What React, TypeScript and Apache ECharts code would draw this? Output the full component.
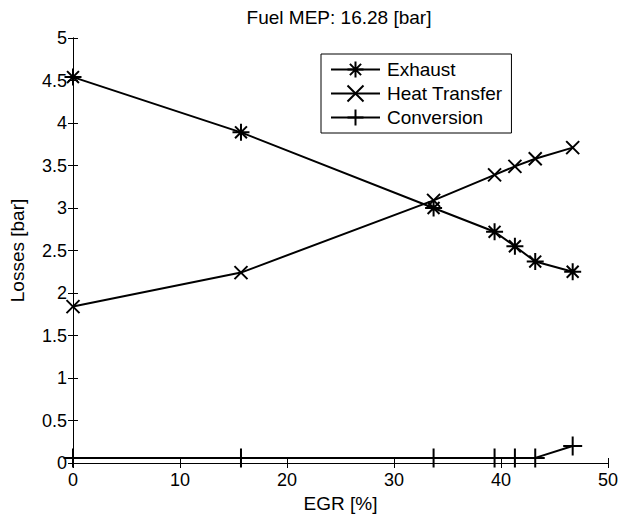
import React, { useEffect, useRef } from "react";
import * as echarts from "echarts";

const egr = [0, 15.7, 33.7, 39.4, 41.3, 43.2, 46.7];
const exhaust = [4.54, 3.89, 3.0, 2.72, 2.55, 2.37, 2.25];
const heatTransfer = [1.84, 2.24, 3.09, 3.39, 3.49, 3.58, 3.71];
const conversion = [0.06, 0.06, 0.06, 0.06, 0.06, 0.06, 0.2];
const seriesNames = ["Exhaust", "Heat Transfer", "Conversion"];
const titleText = "Fuel MEP: 16.28 [bar]";
const xName = "EGR [%]";
const yName = "Losses [bar]";

const FONT = "'Liberation Sans', Arial, Helvetica, sans-serif";

const ASTERISK = "path://M10 0 L10 20 M0 10 L20 10 M3 3 L17 17 M17 3 L3 17";
const XMARK = "path://M0 0 L20 20 M20 0 L0 20";
const PLUS = "path://M10 0 L10 20 M0 10 L20 10";

const pairs = (ys: number[]) => egr.map((x, i) => [x, ys[i]]);

export default function App() {
  const ref = useRef<HTMLDivElement>(null);
  useEffect(() => {
    if (!ref.current) return;
    const chart = echarts.init(ref.current, undefined, { renderer: "svg" });
    const baseAxisLine = { show: true, lineStyle: { color: "#000", width: 1 } };
    const tick = { show: true, inside: true, length: 5, lineStyle: { color: "#000" } };
    const mkSeries = (name: string, ys: number[], symbol: string, size: number) => ({
      type: "line",
      name,
      data: pairs(ys),
      xAxisIndex: 0,
      yAxisIndex: 0,
      symbol,
      symbolSize: size,
      showAllSymbol: true,
      lineStyle: { color: "#000", width: 2 },
      itemStyle: { color: "#000", borderColor: "#000", borderWidth: 2 },
      emphasis: { disabled: true },
    });
    chart.setOption({
      animation: false,
      backgroundColor: "#fff",
      textStyle: { fontFamily: FONT, color: "#000" },
      grid: { left: 70, right: 12, top: 38, bottom: 55, containLabel: false },
      graphic: [
        {
          type: "text",
          x: 339,
          y: 17,
          style: {
            text: titleText,
            fontSize: 19,
            fontFamily: FONT,
            fill: "#000",
            textAlign: "center",
            textVerticalAlign: "middle",
          },
        },
      ],
      legend: {
        data: seriesNames,
        orient: "vertical",
        left: 321,
        top: 54,
        itemWidth: 49,
        itemHeight: 20,
        itemGap: 5,
        padding: [6, 9, 6, 9],
        borderColor: "#000",
        borderWidth: 1,
        backgroundColor: "#fff",
        textStyle: { fontSize: 19, fontFamily: FONT, color: "#000", padding: [0, 0, 0, 2] },
        selectedMode: false,
      },
      xAxis: [
        {
          type: "value",
          min: 0,
          max: 50,
          interval: 10,
          position: "bottom",
          name: xName,
          nameLocation: "middle",
          nameGap: 30,
          nameTextStyle: { fontSize: 19, fontFamily: FONT, color: "#000" },
          axisLine: baseAxisLine,
          axisTick: tick,
          axisLabel: { fontSize: 18, fontFamily: FONT, color: "#000", margin: 8 },
          splitLine: { show: false },
        },
        {
          type: "value",
          min: 0,
          max: 50,
          interval: 10,
          position: "top",
          axisLine: baseAxisLine,
          axisTick: tick,
          axisLabel: { show: false },
          splitLine: { show: false },
        },
      ],
      yAxis: [
        {
          type: "value",
          min: 0,
          max: 5,
          interval: 0.5,
          position: "left",
          name: yName,
          nameLocation: "middle",
          nameGap: 46,
          nameTextStyle: { fontSize: 19, fontFamily: FONT, color: "#000" },
          axisLine: baseAxisLine,
          axisTick: tick,
          axisLabel: { fontSize: 18, fontFamily: FONT, color: "#000", margin: 6 },
          splitLine: { show: false },
        },
        {
          type: "value",
          min: 0,
          max: 5,
          interval: 0.5,
          position: "right",
          axisLine: baseAxisLine,
          axisTick: tick,
          axisLabel: { show: false },
          splitLine: { show: false },
        },
      ],
      series: [
        mkSeries(seriesNames[0], exhaust, ASTERISK, 17),
        mkSeries(seriesNames[1], heatTransfer, XMARK, 13),
        mkSeries(seriesNames[2], conversion, PLUS, 19),
      ],
    });
    return () => chart.dispose();
  }, []);
  return (
    <div
      ref={ref}
      style={{ position: "absolute", left: 0, top: 0, width: 621, height: 518, background: "#fff" }}
    />
  );
}
